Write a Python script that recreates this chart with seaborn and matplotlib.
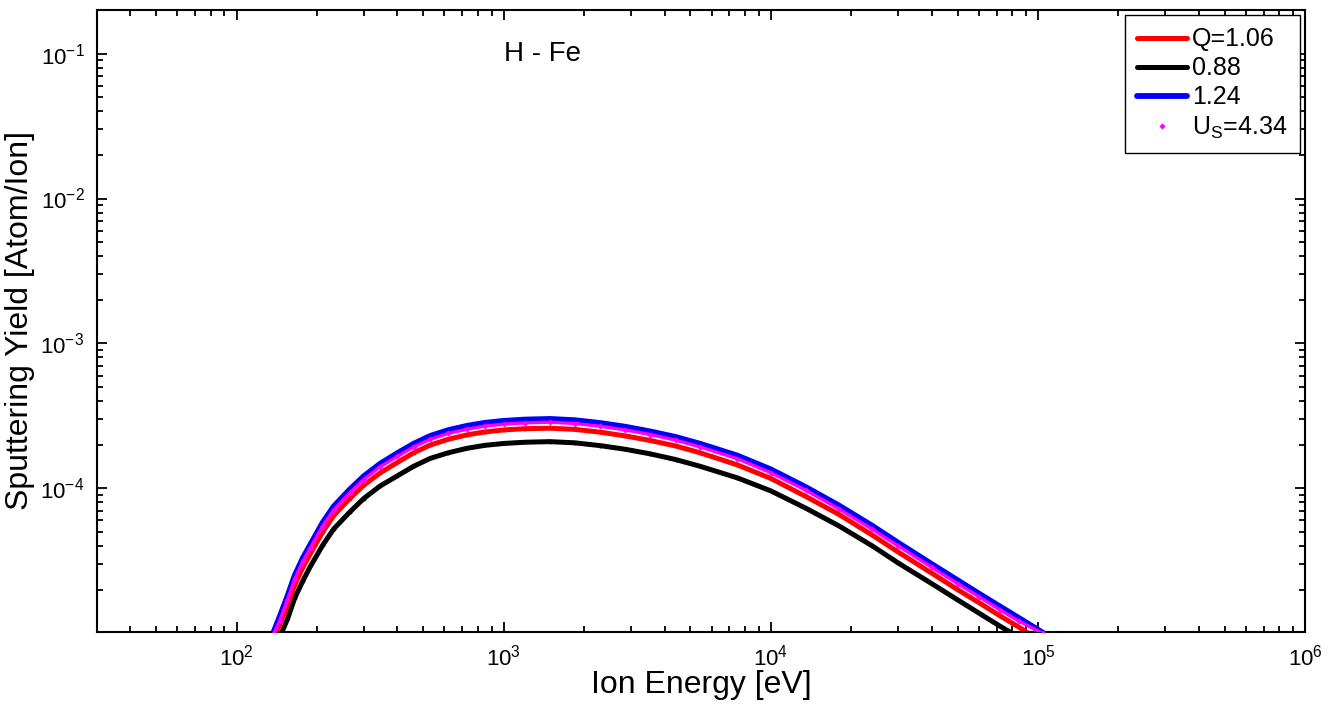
import numpy as np
import pandas as pd
import matplotlib
matplotlib.use('Agg')
import matplotlib.pyplot as plt
import seaborn as sns
from matplotlib.ticker import LogLocator, NullFormatter

# values (ion energy in eV, yield in atom/ion)
e_blue = [137, 145, 155, 165, 177, 189, 210, 231, 265, 299, 345, 400, 460, 531, 620, 730, 850,
          1000, 1200, 1490, 1850, 2300, 2850, 3530, 4400, 5430, 7500, 10000, 13500, 18000,
          24000, 30000, 40000, 50000, 60000, 72000, 85000, 105000]
y_blue = [1.0e-5, 1.3e-5, 1.8e-5, 2.5e-5, 3.3e-5, 4.1e-5, 5.8e-5, 7.5e-5, 9.8e-5, 1.21e-4,
          1.48e-4, 1.75e-4, 2.03e-4, 2.30e-4, 2.52e-4, 2.70e-4, 2.83e-4, 2.92e-4, 2.98e-4,
          3.01e-4, 2.95e-4, 2.82e-4, 2.66e-4, 2.47e-4, 2.26e-4, 2.03e-4, 1.68e-4, 1.35e-4,
          1.02e-4, 7.6e-5, 5.5e-5, 4.2e-5, 3.0e-5, 2.32e-5, 1.88e-5, 1.53e-5, 1.27e-5, 1.0e-5]

e_black = [147, 155, 165, 177, 189, 210, 231, 265, 299, 345, 400, 460, 531, 620, 730, 850,
           1000, 1200, 1490, 1850, 2300, 2850, 3530, 4400, 5430, 7500, 10000, 13500, 18000,
           24000, 30000, 40000, 50000, 60000, 72000, 80000]
y_black = [1.0e-5, 1.25e-5, 1.75e-5, 2.3e-5, 2.9e-5, 4.05e-5, 5.25e-5, 6.85e-5, 8.5e-5,
           1.04e-4, 1.22e-4, 1.42e-4, 1.61e-4, 1.76e-4, 1.89e-4, 1.98e-4, 2.04e-4, 2.08e-4,
           2.10e-4, 2.06e-4, 1.97e-4, 1.86e-4, 1.73e-4, 1.58e-4, 1.42e-4, 1.18e-4, 9.6e-5,
           7.3e-5, 5.5e-5, 4.0e-5, 3.05e-5, 2.2e-5, 1.7e-5, 1.38e-5, 1.12e-5, 1.0e-5]

e_red = [140, 145, 155, 165, 177, 189, 210, 231, 265, 299, 345, 400, 460, 531, 620, 730, 850,
         1000, 1200, 1490, 1850, 2300, 2850, 3530, 4400, 5430, 7500, 10000, 13500, 18000,
         24000, 30000, 40000, 50000, 60000, 72000, 85000, 92000]
y_red = [1.0e-5, 1.15e-5, 1.56e-5, 2.16e-5, 2.85e-5, 3.55e-5, 5.0e-5, 6.5e-5, 8.5e-5, 1.05e-4,
         1.28e-4, 1.51e-4, 1.76e-4, 1.99e-4, 2.18e-4, 2.34e-4, 2.45e-4, 2.53e-4, 2.58e-4,
         2.60e-4, 2.55e-4, 2.44e-4, 2.30e-4, 2.14e-4, 1.96e-4, 1.76e-4, 1.45e-4, 1.17e-4,
         8.8e-5, 6.6e-5, 4.75e-5, 3.63e-5, 2.6e-5, 2.0e-5, 1.63e-5, 1.32e-5, 1.1e-5, 1.0e-5]

e_mag = [138, 145, 155, 165, 177, 189, 210, 231, 265, 299, 345, 400, 460, 531, 620, 730, 850,
         1000, 1200, 1490, 1850, 2300, 2850, 3530, 4400, 5430, 7500, 10000, 13500, 18000,
         24000, 30000, 40000, 50000, 60000, 72000, 85000, 104000]
y_mag = [1.0e-5, 1.22e-5, 1.7e-5, 2.37e-5, 3.13e-5, 3.9e-5, 5.5e-5, 7.1e-5, 9.3e-5, 1.15e-4,
         1.41e-4, 1.66e-4, 1.93e-4, 2.18e-4, 2.39e-4, 2.56e-4, 2.69e-4, 2.77e-4, 2.83e-4,
         2.86e-4, 2.80e-4, 2.68e-4, 2.53e-4, 2.35e-4, 2.15e-4, 1.93e-4, 1.60e-4, 1.28e-4,
         9.7e-5, 7.2e-5, 5.2e-5, 4.0e-5, 2.85e-5, 2.2e-5, 1.79e-5, 1.45e-5, 1.21e-5, 1.0e-5]

sns.set_style('ticks')
plt.rcParams['font.family'] = ['Liberation Sans', 'DejaVu Sans']
plt.rcParams['mathtext.fontset'] = 'custom'
plt.rcParams['mathtext.rm'] = 'Liberation Sans'
plt.rcParams['mathtext.it'] = 'Liberation Sans'
plt.rcParams['axes.unicode_minus'] = False
for k in ['text.color', 'axes.labelcolor', 'xtick.color', 'ytick.color']:
    plt.rcParams[k] = 'black'

fig = plt.figure(figsize=(13.32, 7.04), dpi=100)
ax = fig.add_axes([0.0728, 0.1023, 0.907, 0.8835])

sns.lineplot(x=e_blue, y=y_blue, color='#0000ff', lw=4.2, marker='o', markersize=2,
             markeredgecolor='#0000ff', label='1.24', ax=ax, zorder=2)
sns.lineplot(x=e_black, y=y_black, color='black', lw=3.6, marker='o', markersize=2,
             markeredgecolor='black', label='0.88', ax=ax, zorder=2)
sns.lineplot(x=e_red, y=y_red, color='#ff0000', lw=3.6, marker='o', markersize=2,
             markeredgecolor='#ff0000', label='Q=1.06', ax=ax, zorder=2)
# U_s curve: dense magenta points (band) plus the points themselves
sns.lineplot(x=e_mag, y=y_mag, color='#ff00ff', lw=2.4, ax=ax, zorder=3, legend=False)
sns.lineplot(x=e_mag, y=y_mag, color='#ff00ff', linestyle='', marker='D', markersize=3.2,
             markeredgewidth=0, label=r'U$_\mathregular{S}$=4.34', ax=ax, zorder=3)

ax.set_xscale('log')
ax.set_yscale('log')
ax.set_xlim(30, 1e6)
ax.set_ylim(1.02e-5, 0.2)

ax.xaxis.set_minor_locator(LogLocator(base=10, subs=np.arange(2, 10)))
ax.yaxis.set_minor_locator(LogLocator(base=10, subs=np.arange(2, 10)))
ax.xaxis.set_minor_formatter(NullFormatter())
ax.yaxis.set_minor_formatter(NullFormatter())
ax.tick_params(which='both', direction='in', top=True, right=True, width=1.3)
ax.tick_params(which='major', length=7.5, labelsize=16, pad=9)
ax.tick_params(which='minor', length=4.5)
for s in ax.spines.values():
    s.set_linewidth(1.5)
    s.set_color('black')

ax.set_xlabel('Ion Energy [eV]', fontsize=23, labelpad=0)
ax.set_ylabel('Sputtering Yield [Atom/Ion]', fontsize=23, labelpad=4)
ax.text(1400, 0.1, 'H - Fe', fontsize=20, ha='center', va='center')

handles, labels = ax.get_legend_handles_labels()
order = [2, 1, 0, 3]
leg = ax.legend([handles[i] for i in order], [labels[i] for i in order], loc='upper right',
                fontsize=18, frameon=True, fancybox=False, edgecolor='black', framealpha=1,
                handlelength=2.0, handletextpad=0.2, borderpad=0.5, labelspacing=0.2,
                borderaxespad=0.2)
leg.get_frame().set_linewidth(1.0)

fig.savefig('out.png', dpi=100)
